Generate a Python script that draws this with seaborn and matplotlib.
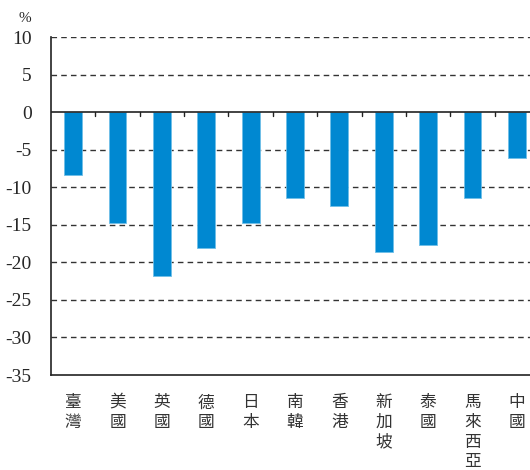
import matplotlib
matplotlib.use("Agg")
import matplotlib.pyplot as plt
import seaborn as sns
import pandas as pd

categories = ["臺灣", "美國", "英國", "德國", "日本", "南韓", "香港", "新加坡", "泰國", "馬來西亞", "中國"]
values = [-8.4, -14.7, -21.8, -18.1, -14.7, -11.4, -12.5, -18.6, -17.7, -11.4, -6.1]
y_ticks = [10, 5, 0, -5, -10, -15, -20, -25, -30, -35]

sns.set_theme(style="white")
plt.rcParams['font.family'] = ['Noto Sans CJK TC', 'DejaVu Sans']

df = pd.DataFrame({"cat": categories, "val": values})

fig = plt.figure(figsize=(5.3, 4.7), dpi=100)
ax = fig.add_axes([51/530, 95/470, 488/530, 338/470])

sns.barplot(data=df, x="cat", y="val", ax=ax, color="#0088d1", width=0.4,
            saturation=1, edgecolor="#6fbfe8", linewidth=0.6, zorder=3)

ax.set_ylim(-35, 10)
ax.set_xlim(-0.5, len(categories) - 0.5)
ax.set_yticks(y_ticks)
ax.set_yticklabels([str(t) for t in y_ticks], family="Liberation Serif", fontsize=14)
for t in y_ticks:
    if t not in (0, -35):
        ax.axhline(t, color="#333333", linestyle=(0, (4, 3)), linewidth=1.0, zorder=1)
ax.axhline(0, color="#222222", linewidth=1.2, zorder=4)

# category boundary ticks on zero line
for i in range(len(categories) - 1):
    ax.plot([i + 0.5, i + 0.5], [0, -0.55], color="#222222", linewidth=1.0, zorder=4, clip_on=False)

ax.set_xticks(range(len(categories)))
ax.set_xticklabels(["\n".join(list(c)) for c in categories], fontsize=12,
                   linespacing=1.2, va="top", color="#333333")
ax.tick_params(axis="x", length=0, pad=14)
ax.tick_params(axis="y", length=0, pad=14)
ax.set_xlabel("")
ax.set_ylabel("")

for s in ["top", "right"]:
    ax.spines[s].set_visible(False)
ax.spines["left"].set_color("#222222")
ax.spines["left"].set_linewidth(1.2)
ax.spines["bottom"].set_color("#222222")
ax.spines["bottom"].set_linewidth(1.2)

fig.text(25/530, 1 - 18/470, "%", family="Liberation Serif", fontsize=11, ha="center", va="center")

fig.savefig("out.png", dpi=100)
